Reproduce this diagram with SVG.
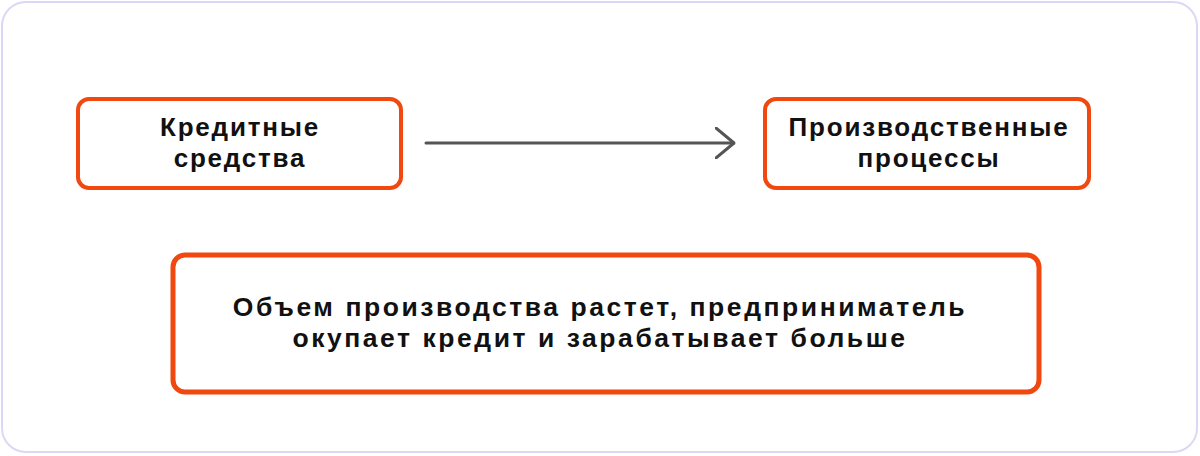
<svg xmlns="http://www.w3.org/2000/svg" width="1200" height="456" viewBox="0 0 1200 456">
  <style>
    .box { fill: #ffffff; stroke: #F0480F; }
    .t { font-family: "Liberation Sans", Arial, sans-serif; font-weight: 700; fill: #111111; text-anchor: middle; }
    .s { font-size: 26px; letter-spacing: 1.8px; }
    .l { font-size: 26.5px; letter-spacing: 2.55px; }
    .conn { stroke: #555555; stroke-width: 3; fill: none; stroke-linecap: round; stroke-linejoin: round; }
  </style>
  <defs>
    <marker id="chev" viewBox="0 0 20 32" refX="19" refY="16" markerWidth="20" markerHeight="32" markerUnits="userSpaceOnUse" orient="auto">
      <path d="M1,1 L19,16 L1,31" fill="none" stroke="#555555" stroke-width="3" stroke-linecap="round" stroke-linejoin="round"/>
    </marker>
  </defs>
  <rect x="0" y="0" width="1200" height="456" fill="#ffffff"/>
  <rect id="panel" x="2" y="2" width="1195" height="450" rx="24" fill="#ffffff" stroke="#d9d9f5" stroke-width="2"/>
  <g id="connectors">
    <line class="conn" x1="426" y1="143" x2="734" y2="143" marker-end="url(#chev)"/>
  </g>
  <g id="node-credit">
    <rect class="box" x="78" y="99" width="323" height="89" rx="11" stroke-width="4"/>
    <text class="t s"><tspan x="240" y="136">Кредитные</tspan><tspan x="240" y="167">средства</tspan></text>
  </g>
  <g id="node-production">
    <rect class="box" x="765" y="99" width="324" height="89" rx="11" stroke-width="4"/>
    <text class="t s"><tspan x="929" y="136">Производственные</tspan><tspan x="929" y="167">процессы</tspan></text>
  </g>
  <g id="node-result">
    <rect class="box" x="173" y="255" width="866" height="137" rx="12" stroke-width="5"/>
    <text class="t l"><tspan x="600" y="316">Объем производства растет, предприниматель</tspan><tspan x="600" y="347">окупает кредит и зарабатывает больше</tspan></text>
  </g>
</svg>
